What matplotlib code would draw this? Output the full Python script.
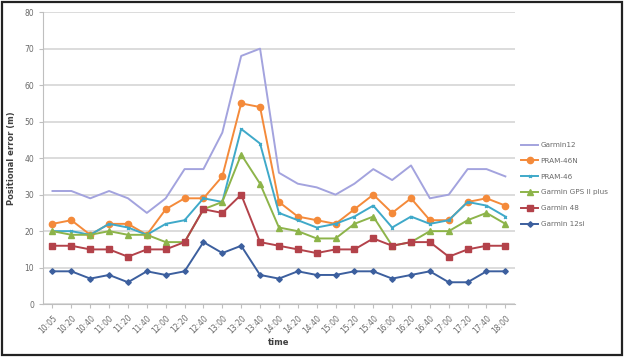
import matplotlib.pyplot as plt
from matplotlib.patches import Rectangle

# times along the x axis
times = ["10:05", "10:20", "10:40", "11:00", "11:20", "11:40", "12:00", "12:20",
         "12:40", "13:00", "13:20", "13:40", "14:00", "14:20", "14:40", "15:00",
         "15:20", "15:40", "16:00", "16:20", "16:40", "17:00", "17:20", "17:40", "18:00"]

# positional error (m) per receiver
garmin12 = [31, 31, 29, 31, 29, 25, 29, 37, 37, 47, 68, 70, 36, 33, 32, 30, 33, 37, 34, 38, 29, 30, 37, 37, 35]
pram46n = [22, 23, 19, 22, 22, 19, 26, 29, 29, 35, 55, 54, 28, 24, 23, 22, 26, 30, 25, 29, 23, 23, 28, 29, 27]
pram46 = [20, 20, 19, 22, 21, 19, 22, 23, 29, 28, 48, 44, 25, 23, 21, 22, 24, 27, 21, 24, 22, 23, 28, 27, 24]
gps2plus = [20, 19, 19, 20, 19, 19, 17, 17, 26, 28, 41, 33, 21, 20, 18, 18, 22, 24, 16, 17, 20, 20, 23, 25, 22]
garmin48 = [16, 16, 15, 15, 13, 15, 15, 17, 26, 25, 30, 17, 16, 15, 14, 15, 15, 18, 16, 17, 17, 13, 15, 16, 16]
garmin12si = [9, 9, 7, 8, 6, 9, 8, 9, 17, 14, 16, 8, 7, 9, 8, 8, 9, 9, 7, 8, 9, 6, 6, 9, 9]

fig = plt.figure(figsize=(6.24, 3.57), dpi=100)
ax = fig.add_axes([0.069, 0.148, 0.756, 0.818])

x = list(range(len(times)))
ax.plot(x, garmin12, color="#A3A3DE", lw=1.4, label="Garmin12")
ax.plot(x, pram46n, color="#F48A3A", lw=1.4, marker="o", ms=4.5, label="PRAM-46N")
ax.plot(x, pram46, color="#3FA9C9", lw=1.4, marker="x", ms=2, label="PRAM-46")
ax.plot(x, gps2plus, color="#8DB44A", lw=1.4, marker="^", ms=4, label="Garmin GPS II plus")
ax.plot(x, garmin48, color="#B3424A", lw=1.4, marker="s", ms=4.5, label="Garmin 48")
ax.plot(x, garmin12si, color="#3C5F9E", lw=1.4, marker="D", ms=2.8, label="Garmin 12si")

ax.set_xlim(-0.5, len(times) - 0.5)
ax.set_ylim(0, 80)
ax.set_yticks(range(0, 81, 10))
ax.set_xticks(x)
ax.set_xticklabels(times, rotation=45, ha="right", rotation_mode="anchor")
ax.tick_params(labelsize=5.5, colors="#6a6a6a", length=3, color="#BFBFBF")
ax.grid(axis="y", color="#D9D9D9", lw=1.3)
ax.set_axisbelow(True)
for s in ["top", "right"]:
    ax.spines[s].set_visible(False)
for s in ["left", "bottom"]:
    ax.spines[s].set_color("#BFBFBF")

ax.set_xlabel("time", fontsize=6, fontweight="bold", color="#404040", labelpad=2)
ax.set_ylabel("Positional error (m)", fontsize=6, fontweight="bold", color="#404040", labelpad=6)

fig.legend(loc="center left", bbox_to_anchor=(0.835, 0.483), frameon=False,
           fontsize=5.2, handlelength=2.4, handletextpad=0.3, labelspacing=1.35,
           labelcolor="#6a6a6a", borderaxespad=0, borderpad=0)

# dark frame around the figure
fig.patches.append(Rectangle((0.003, 0.006), 0.994, 0.988, transform=fig.transFigure,
                             fill=False, edgecolor="#222222", lw=1.6))

plt.savefig("out.png", dpi=100)
